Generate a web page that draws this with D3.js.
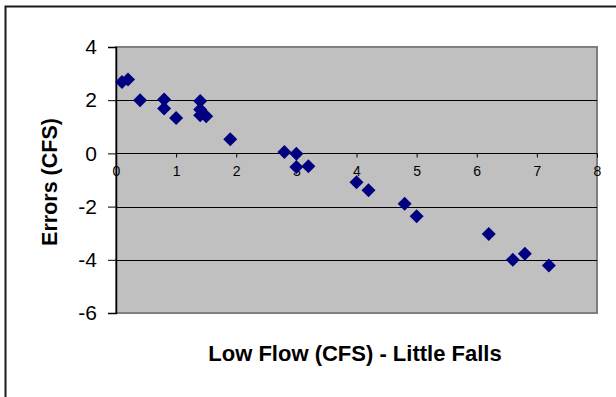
<!DOCTYPE html>
<html>
<head>
<meta charset="utf-8">
<script src="https://cdn.jsdelivr.net/npm/d3@7"></script>
<style>
  html, body { margin: 0; padding: 0; background: #ffffff; }
  svg { display: block; font-family: Arial, "Liberation Sans", sans-serif; }
</style>
</head>
<body>
<svg id="chart" width="616" height="397"></svg>
<script>
// Low flow at Little Falls (CFS) vs. model error (CFS)
const lowFlow = [0.1, 0.2, 0.4, 0.8, 0.8, 1.0, 1.4, 1.4, 1.4, 1.5, 1.9, 2.8, 3.0, 3.0, 3.2,
                 4.0, 4.2, 4.8, 5.0, 6.2, 6.6, 6.8, 7.2];
const errors  = [2.68, 2.78, 2.0, 2.03, 1.69, 1.33, 1.97, 1.65, 1.43, 1.40, 0.53, 0.05, -0.01, -0.51, -0.48,
                 -1.08, -1.39, -1.89, -2.36, -3.03, -4.0, -3.77, -4.21];
const xTicks = [0, 1, 2, 3, 4, 5, 6, 7, 8];
const yTicks = [4, 2, 0, -2, -4, -6];
const xTitle = "Low Flow (CFS) - Little Falls";
const yTitle = "Errors (CFS)";

const svg = d3.select("#chart");
const plot = { left: 116, top: 47, right: 597, bottom: 313 };

const x = d3.scaleLinear().domain([0, 8]).range([plot.left, plot.right]);
const y = d3.scaleLinear().domain([-6, 4]).range([plot.bottom, plot.top]);

// outer chart frame
svg.append("rect")
  .attr("x", 5.5).attr("y", 6.5)
  .attr("width", 640).attr("height", 420)
  .attr("fill", "none").attr("stroke", "#1a1a1a").attr("stroke-width", 2);

// plot area
svg.append("rect")
  .attr("x", plot.left).attr("y", plot.top)
  .attr("width", plot.right - plot.left).attr("height", plot.bottom - plot.top)
  .attr("fill", "#c0c0c0").attr("stroke", "#808080").attr("stroke-width", 2);

// horizontal gridlines
svg.append("g")
  .selectAll("line")
  .data(yTicks.filter(d => d !== 4 && d !== -6))
  .join("line")
  .attr("x1", plot.left).attr("x2", plot.right)
  .attr("y1", d => Math.round(y(d)) + 0.5).attr("y2", d => Math.round(y(d)) + 0.5)
  .attr("stroke", "#000").attr("stroke-width", 1);

// y axis (plain hyphen for negatives)
const yAxis = svg.append("g")
  .attr("transform", `translate(${plot.left},0)`)
  .call(d3.axisLeft(y).tickValues(yTicks).tickSize(8).tickPadding(11).tickFormat(d => String(d)));
yAxis.select(".domain").attr("stroke", "#000").attr("stroke-width", 1.5);
yAxis.selectAll(".tick line").attr("stroke", "#000");
yAxis.selectAll(".tick text")
  .attr("font-size", 21).attr("fill", "#000")
  .attr("font-family", "Arial, 'Liberation Sans', sans-serif");

// x axis along y = 0
const xAxis = svg.append("g")
  .attr("transform", `translate(0,${Math.round(y(0)) + 0.5})`)
  .call(d3.axisBottom(x).tickValues(xTicks).tickSize(4).tickPadding(9).tickFormat(d => String(d)));
xAxis.select(".domain").remove();
xAxis.selectAll(".tick line").attr("stroke", "#000");
xAxis.selectAll(".tick text")
  .attr("font-size", 14).attr("fill", "#000")
  .attr("font-family", "Arial, 'Liberation Sans', sans-serif");

// data markers (diamonds)
const diamond = "M0,-7L7,0L0,7L-7,0Z";
svg.append("g")
  .selectAll("path")
  .data(lowFlow.map((v, i) => [v, errors[i]]))
  .join("path")
  .attr("d", diamond)
  .attr("transform", d => `translate(${x(d[0])},${y(d[1])})`)
  .attr("fill", "#000080");

// axis titles
svg.append("text")
  .attr("x", 355).attr("y", 361)
  .attr("text-anchor", "middle")
  .attr("font-size", 22).attr("font-weight", "bold").attr("fill", "#000")
  .text(xTitle);

svg.append("text")
  .attr("transform", "translate(57,182) rotate(-90)")
  .attr("text-anchor", "middle")
  .attr("font-size", 21.5).attr("font-weight", "bold").attr("fill", "#000")
  .text(yTitle);
</script>
</body>
</html>
